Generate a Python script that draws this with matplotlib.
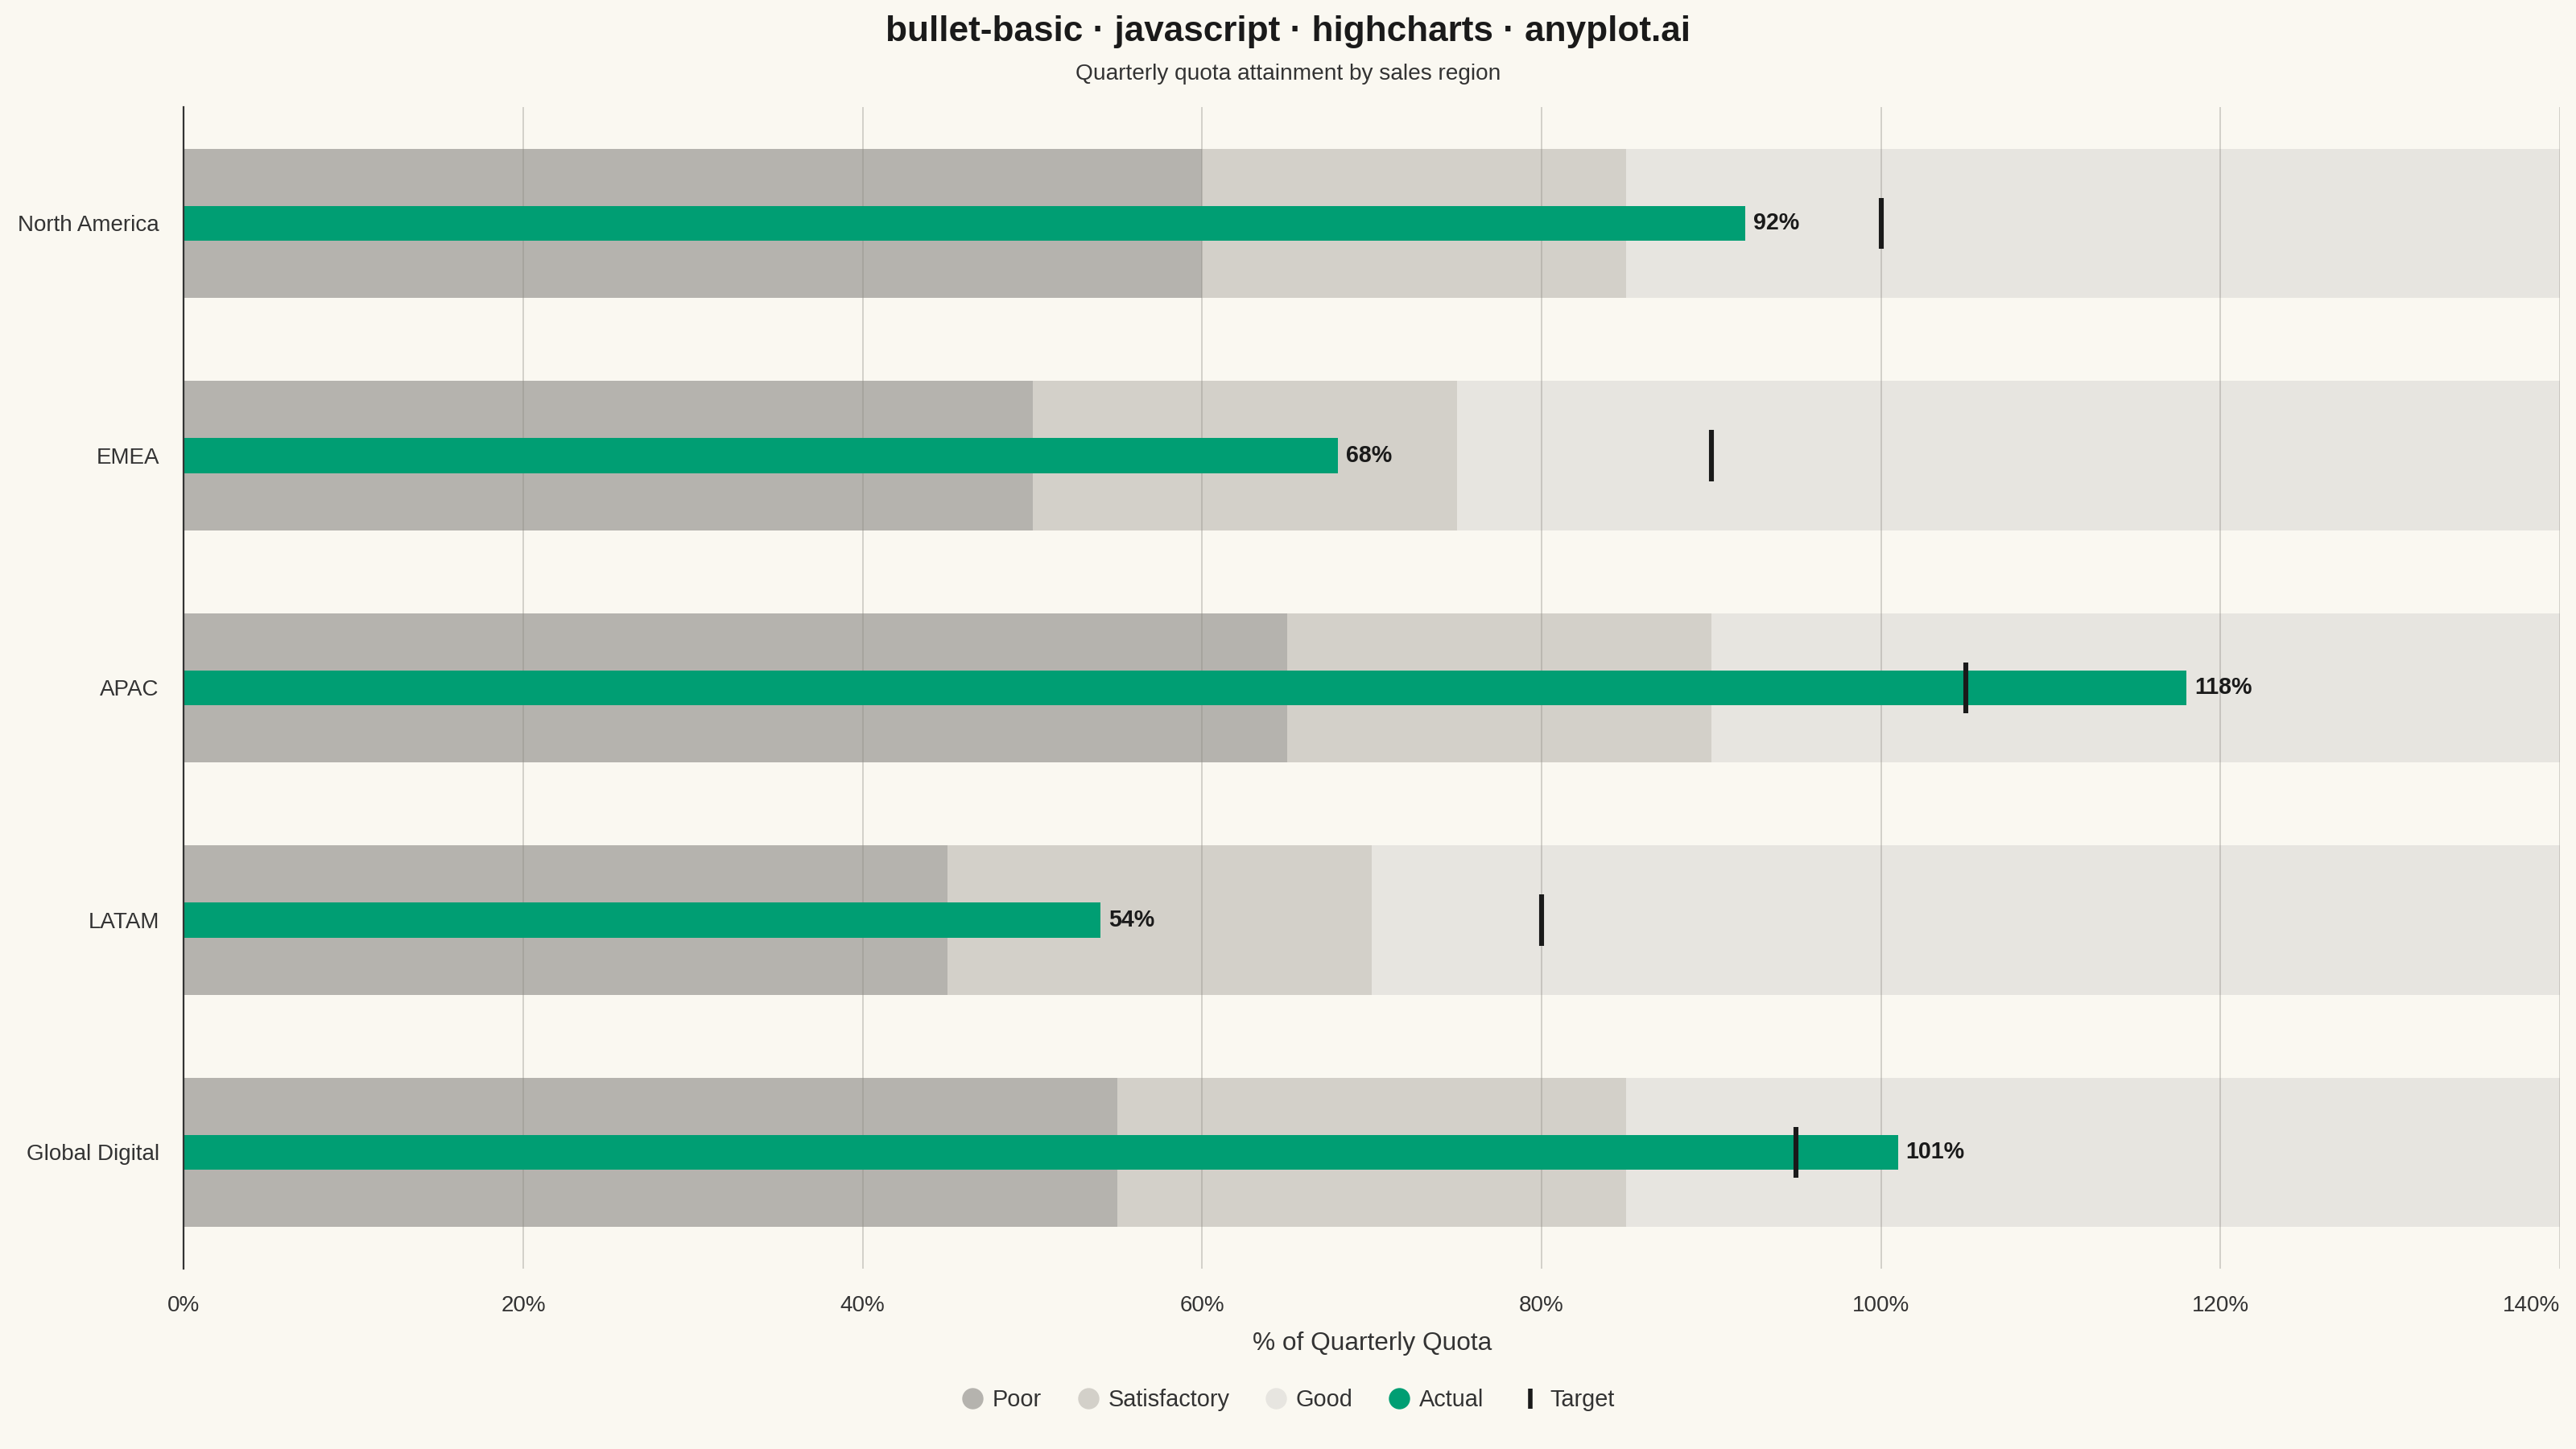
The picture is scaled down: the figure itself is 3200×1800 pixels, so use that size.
import matplotlib
matplotlib.use('Agg')
import matplotlib.pyplot as plt
from matplotlib.lines import Line2D
import numpy as np

regions = ['North America', 'EMEA', 'APAC', 'LATAM', 'Global Digital']
poor = [60, 50, 65, 45, 55]
satisfactory = [85, 75, 90, 70, 85]
good = [140, 140, 140, 140, 140]
actual = [92, 68, 118, 54, 101]
target = [100, 90, 105, 80, 95]
xticks = [0, 20, 40, 60, 80, 100, 120, 140]

bg = '#faf8f1'
c_poor = '#b5b3ae'
c_sat = '#d3d0c9'
c_good = '#e7e5e0'
c_actual = '#009e73'
c_target = '#1a1a1a'

plt.rcParams['font.family'] = ['Liberation Sans', 'DejaVu Sans']

fig = plt.figure(figsize=(16, 9), dpi=200, facecolor=bg)
ax = fig.add_axes([0.0714, 0.1246, 0.9223, 0.8014])
ax.set_facecolor(bg)

y = np.arange(len(regions))
band_h = 0.644
ax.barh(y, good, height=band_h, color=c_good, zorder=1)
ax.barh(y, satisfactory, height=band_h, color=c_sat, zorder=1)
ax.barh(y, poor, height=band_h, color=c_poor, zorder=1)

for v in xticks[1:]:
    ax.axvline(v, color='#8a8780', alpha=0.35, lw=0.7, zorder=2)

ax.barh(y, actual, height=0.15, color=c_actual, zorder=3)
ax.vlines(target, y - 0.11, y + 0.11, color=c_target, lw=2.2, zorder=4)

for yi, a in zip(y, actual):
    ax.annotate(f'{a}%', (a, yi), xytext=(3.6, 0), textcoords='offset points',
                va='center', ha='left', fontsize=10.3, fontweight='bold',
                color='#1a1a1a', zorder=5)

ax.set_xlim(0, 140)
ax.set_ylim(len(regions) - 0.5, -0.5)
ax.set_yticks(y)
ax.set_yticklabels(regions)
ax.set_xticks(xticks)
ax.set_xticklabels([f'{v}%' for v in xticks])
ax.tick_params(axis='both', length=0, labelsize=10, labelcolor='#333333')
ax.tick_params(axis='x', pad=12)
ax.tick_params(axis='y', pad=11)
ax.get_xticklabels()[-1].set_horizontalalignment('right')
for s in ['top', 'right', 'bottom']:
    ax.spines[s].set_visible(False)
ax.spines['left'].set_color('#333333')
ax.spines['left'].set_linewidth(0.8)
ax.spines['left'].set_zorder(6)

ax.set_xlabel('% of Quarterly Quota', fontsize=11.4, color='#333333', labelpad=7)

fig.text(0.5, 0.978, 'bullet-basic · javascript · highcharts · anyplot.ai',
         ha='center', va='center', fontsize=15.9, fontweight='bold', color='#1a1a1a')
fig.text(0.5, 0.949, 'Quarterly quota attainment by sales region',
         ha='center', va='center', fontsize=10.1, color='#333333')

handles = [
    Line2D([], [], ls='', marker='o', ms=8.5, color=c_poor),
    Line2D([], [], ls='', marker='o', ms=8.5, color=c_sat),
    Line2D([], [], ls='', marker='o', ms=8.5, color=c_good),
    Line2D([], [], ls='', marker='o', ms=8.5, color=c_actual),
    Line2D([], [], ls='', marker='|', ms=9, mew=2, color=c_target),
]
fig.legend(handles, ['Poor', 'Satisfactory', 'Good', 'Actual', 'Target'],
           loc='center', bbox_to_anchor=(0.5, 0.034), ncol=5, frameon=False,
           fontsize=10.4, labelcolor='#333333', handletextpad=0.35,
           columnspacing=1.5, handlelength=1.0)

fig.savefig('out.png', dpi=200, facecolor=bg)
